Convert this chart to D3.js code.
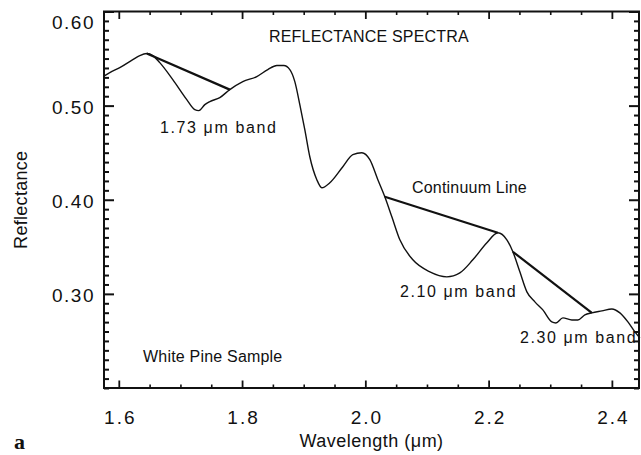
<!DOCTYPE html>
<html>
<head>
<meta charset="utf-8">
<script src="https://cdn.jsdelivr.net/npm/d3@7"></script>
<style>
  body { margin: 0; background: #fff; }
  svg text { font-family: "Liberation Sans", Arial, sans-serif; fill: #111; }
</style>
</head>
<body>
<svg width="641" height="455"></svg>
<script>
// spectrum
const wavelength = [1.5773, 1.5854, 1.6016, 1.6227, 1.6341, 1.6454, 1.6552, 1.6665, 1.6876, 1.7103,
  1.7233, 1.7298, 1.7396, 1.7477, 1.7639, 1.7801, 1.8012, 1.8239, 1.8418, 1.8564,
  1.8677, 1.8775, 1.8856, 1.8937, 1.9018, 1.9099, 1.9213, 1.9294, 1.9424, 1.9635,
  1.9797, 1.9943, 2.0073, 2.0203, 2.0316, 2.0430, 2.0560, 2.0771, 2.1047, 2.1322,
  2.1533, 2.1744, 2.1972, 2.2150, 2.2296, 2.2394, 2.2507, 2.2621, 2.2751, 2.2880,
  2.3026, 2.3091, 2.3205, 2.3351, 2.3448, 2.3562, 2.3675, 2.3838, 2.4000, 2.4130,
  2.4260, 2.4373, 2.4454];
const reflectance = [0.5319, 0.5351, 0.5404, 0.5489, 0.5532, 0.5553, 0.5532, 0.5457, 0.5277, 0.5064,
  0.4957, 0.4947, 0.5011, 0.5043, 0.5085, 0.5170, 0.5255, 0.5309, 0.5383, 0.5426,
  0.5426, 0.5383, 0.5255, 0.5011, 0.4745, 0.4457, 0.4213, 0.4128, 0.4181, 0.4351,
  0.4479, 0.4500, 0.4426, 0.4213, 0.4032, 0.3819, 0.3574, 0.3362, 0.3234, 0.3181,
  0.3223, 0.3362, 0.3543, 0.3649, 0.3574, 0.3447, 0.3234, 0.3021, 0.2915, 0.2830,
  0.2702, 0.2691, 0.2745, 0.2723, 0.2723, 0.2777, 0.2798, 0.2819, 0.2840, 0.2798,
  0.2702, 0.2596, 0.2532];

// continuum line segments [w0, r0, w1, r1]
const continuum = [
  [1.6454, 0.5553, 1.7801, 0.5170],
  [2.0316, 0.4032, 2.2150, 0.3649],
  [2.2394, 0.3447, 2.3675, 0.2798]
];

const xMajor = [1.6, 1.8, 2.0, 2.2, 2.4];
const yMajor = [0.3, 0.4, 0.5, 0.6];

const notes = [
  {text: "REFLECTANCE SPECTRA", w: 1.8437, r: 0.5676, cls: "caps"},
  {text: "1.73 \u03bcm band", w: 1.6669, r: 0.4709, cls: "band"},
  {text: "Continuum Line", w: 2.0757, r: 0.4072, cls: "plain"},
  {text: "2.10 \u03bcm band", w: 2.0562, r: 0.2967, cls: "band"},
  {text: "2.30 \u03bcm band", w: 2.2509, r: 0.2478, cls: "band"},
  {text: "White Pine Sample", w: 1.6393, r: 0.2276, cls: "plain"}
];

const pLeft = 104, pRight = 639, pTop = 11.5, pBottom = 388;

const x = d3.scaleLinear().domain([1.576, 2.444]).range([pLeft, pRight]);
const y = d3.scaleLinear().domain([0.2, 0.6]).range([pBottom, pTop]);

const xMinor = d3.range(1.6, 2.44, 0.05).filter(v => !xMajor.some(m => Math.abs(m - v) < 1e-6));
const yMinor = d3.range(0.2, 0.6001, 0.01).filter(v => !yMajor.some(m => Math.abs(m - v) < 1e-6));

const svg = d3.select("svg");

function tickAxis(axis, pos, vals, size, fmt, sw) {
  const g = svg.append("g")
      .attr("transform", pos)
      .call(axis.tickValues(vals).tickSize(size).tickSizeOuter(0).tickFormat(fmt || ""));
  g.select(".domain").remove();
  g.selectAll(".tick line").attr("stroke", "#111").attr("stroke-width", sw);
  return g;
}

// x ticks bottom and top
const xb = tickAxis(d3.axisBottom(x), `translate(0,${pBottom})`, xMajor, -7.5, d3.format(".1f"), 1.8);
tickAxis(d3.axisBottom(x), `translate(0,${pBottom})`, xMinor, -3.5, null, 1.6);
tickAxis(d3.axisTop(x), `translate(0,${pTop})`, xMajor, -7.5, null, 1.8);
tickAxis(d3.axisTop(x), `translate(0,${pTop})`, xMinor, -3.5, null, 1.6);

xb.selectAll("text")
    .attr("font-size", 19)
    .attr("letter-spacing", 2)
    .attr("y", 0)
    .attr("dy", 0)
    .attr("transform", "translate(1,36)");

// y ticks left and right
const yl = tickAxis(d3.axisLeft(y), `translate(${pLeft},0)`, yMajor, -10, d3.format(".2f"), 2);
tickAxis(d3.axisLeft(y), `translate(${pLeft},0)`, yMinor, -5, null, 2);
tickAxis(d3.axisRight(y), `translate(${pRight},0)`, yMajor, -10, null, 2);
tickAxis(d3.axisRight(y), `translate(${pRight},0)`, yMinor, -5, null, 2);

yl.selectAll("text")
    .attr("font-size", 19)
    .attr("letter-spacing", 1.5)
    .attr("x", -9)
    .attr("dy", "0.4em");
yl.selectAll(".tick").filter(d => d === 0.6).select("text").attr("dy", "0.9em");

// frame
svg.append("rect")
    .attr("x", pLeft).attr("y", pTop)
    .attr("width", pRight - pLeft).attr("height", pBottom - pTop)
    .attr("fill", "none").attr("stroke", "#111").attr("stroke-width", 2);

// spectrum
const pts = wavelength.map((w, i) => [w, reflectance[i]]);
const line = d3.line()
    .curve(d3.curveMonotoneX)
    .x(d => x(d[0]))
    .y(d => y(d[1]));

svg.append("path")
    .datum(pts)
    .attr("d", line)
    .attr("fill", "none")
    .attr("stroke", "#111")
    .attr("stroke-width", 1.4);

svg.selectAll(".cont")
    .data(continuum)
    .enter()
    .append("line")
    .attr("class", "cont")
    .attr("x1", d => x(d[0])).attr("y1", d => y(d[1]))
    .attr("x2", d => x(d[2])).attr("y2", d => y(d[3]))
    .attr("stroke", "#111")
    .attr("stroke-width", 2.2);

// annotations
svg.selectAll(".note")
    .data(notes)
    .enter()
    .append("text")
    .attr("class", "note")
    .attr("x", d => x(d.w))
    .attr("y", d => y(d.r))
    .attr("font-size", 16)
    .attr("letter-spacing", d => d.cls === "band" ? 1.6 : 0.2)
    .text(d => d.text);

// axis titles
svg.append("text")
    .attr("x", (pLeft + pRight) / 2)
    .attr("y", 447)
    .attr("text-anchor", "middle")
    .attr("font-size", 18)
    .attr("letter-spacing", 0.5)
    .text("Wavelength (\u03bcm)");

svg.append("text")
    .attr("transform", `translate(27,${(pTop + pBottom) / 2}) rotate(-90)`)
    .attr("text-anchor", "middle")
    .attr("font-size", 18)
    .attr("letter-spacing", 0.3)
    .text("Reflectance");

svg.append("text")
    .attr("x", 14)
    .attr("y", 449)
    .attr("font-size", 22)
    .attr("font-weight", "bold")
    .style("font-family", "'Liberation Serif', serif")
    .text("a");
</script>
</body>
</html>
